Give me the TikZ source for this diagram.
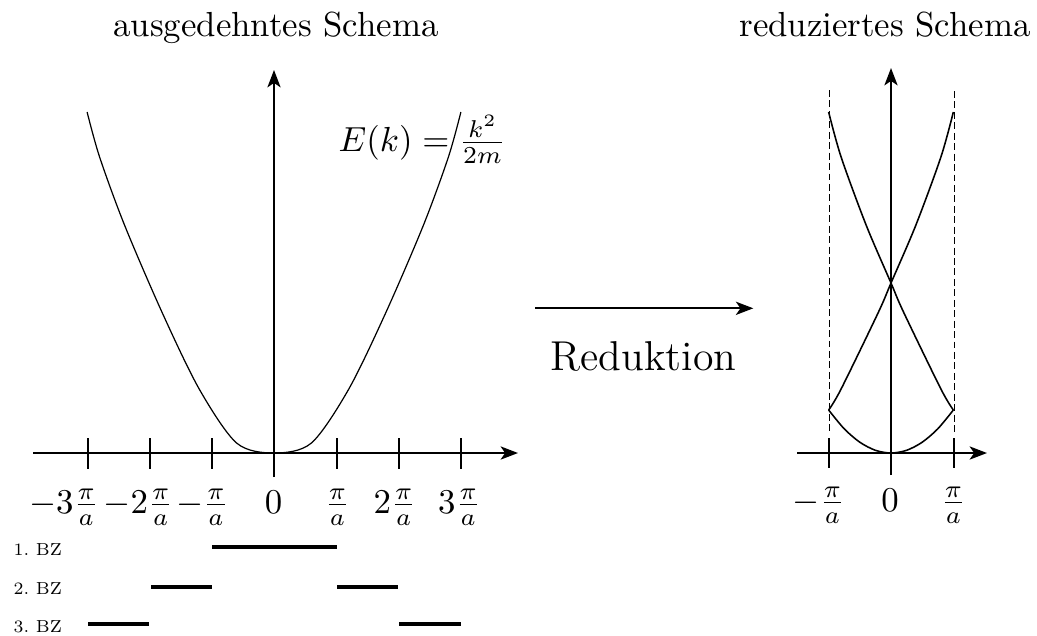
\documentclass[tikz,border=0pt]{standalone}
\usetikzlibrary{arrows.meta}
\begin{document}
\begin{tikzpicture}[x=0.2874pt,y=-0.2874pt,
  axis/.style={line width=0.55pt,-{Stealth[length=5pt,width=3.8pt,inset=1.3pt]}},
  tickline/.style={line width=0.55pt},
  bandcurve/.style={line width=0.45pt},
  thincurve/.style={line width=0.35pt},
  bzbar/.style={line width=1.2pt},
  lbl/.style={inner sep=0pt,anchor=base},
  bzlbl/.style={inner sep=0pt,anchor=base west},
  dashline/.style={line width=0.45pt,dash pattern=on 2pt off 1pt}]
\useasboundingbox (0,0) rectangle (1037,635);

% titles
\node[lbl] (t1) at (276,36) {ausgedehntes Schema};
\node[lbl] (t2) at (885,36) {reduziertes Schema};

% ---------- left plot ----------
\coordinate (xl1) at (33,453);
\coordinate (xr1) at (518,453);
\coordinate (yb1) at (274,477);
\coordinate (yt1) at (274,70);
\draw[axis] (xl1) -- (xr1);
\draw[axis] (yb1) -- (yt1);
\foreach \x in {87.7,149.9,212.2,336.7,398.9,461.2}
  \draw[tickline] (\x,438) -- (\x,469);

\draw[thincurve] plot[smooth] coordinates {
 (87.1,112) (99.6,157) (124.5,225) (161.9,312) (199.2,389) (236.6,443)
 (274,453)
 (311.4,443) (348.8,389) (386.1,312) (423.5,225) (448.4,157) (460.9,112)};

\node[inner sep=0pt,anchor=base west] (ek) at (338,151) {$E(k) = \frac{k^2}{2m}$};

\node[lbl] (l1) at (64,513) {$-3\frac{\pi}{a}$};
\node[lbl] (l2) at (138.5,513) {$-2\frac{\pi}{a}$};
\node[lbl] (l3) at (202.5,513) {$-\frac{\pi}{a}$};
\node[lbl] (l4) at (273.5,513) {$0$};
\node[lbl] (l5) at (337.5,513) {$\frac{\pi}{a}$};
\node[lbl] (l6) at (395,513) {$2\frac{\pi}{a}$};
\node[lbl] (l7) at (459.5,513) {$3\frac{\pi}{a}$};

% Brillouin zones
\node[bzlbl] (bz1) at (13,555) {\scalebox{0.714}{\scriptsize 1.~BZ}};
\node[bzlbl] (bz2) at (13,594) {\scalebox{0.714}{\scriptsize 2.~BZ}};
\node[bzlbl] (bz3) at (13,632) {\scalebox{0.714}{\scriptsize 3.~BZ}};
\draw[bzbar] (212.3,547.3) -- (336.7,547.3);
\draw[bzbar] (151,586.7) -- (211.7,586.7);
\draw[bzbar] (337.3,586.7) -- (398.3,586.7);
\draw[bzbar] (88.3,624.3) -- (149.3,624.3);
\draw[bzbar] (399.3,624.3) -- (460.7,624.3);

% ---------- Reduktion arrow ----------
\coordinate (ra) at (535,308.3);
\coordinate (rb) at (753.3,308.3);
\draw[axis] (ra) -- (rb);
\node[lbl,font=\large] (red) at (643.5,370) {Reduktion};

% ---------- right plot ----------
\coordinate (xl2) at (797,453);
\coordinate (xr2) at (987,453);
\coordinate (yb2) at (891,475);
\coordinate (yt2) at (891,68);
\draw[axis] (xl2) -- (xr2);
\draw[axis] (yb2) -- (yt2);
\draw[tickline] (829.3,438) -- (829.3,468);
\draw[tickline] (954.3,438) -- (954.3,468);
\draw[dashline] (829.3,90) -- (829.3,434);
\draw[dashline] (954.3,91) -- (954.3,434);

\draw[bandcurve] plot[smooth] coordinates {
 (828.65,410) (844.2,428.8) (859.8,442.2) (875.4,450.3) (891,453)
 (906.6,450.3) (922.2,442.2) (937.8,428.8) (953.35,410)};
\draw[bandcurve] plot[smooth] coordinates {
 (828.65,410) (841.1,389) (878.5,312) (891,283) (915.9,225) (940.9,157) (953.35,112)};
\draw[bandcurve] plot[smooth] coordinates {
 (953.35,410) (940.9,389) (903.5,312) (891,283) (866.1,225) (841.1,157) (828.65,112)};

\node[lbl] (r1) at (819,511) {$-\frac{\pi}{a}$};
\node[lbl] (r2) at (890,511) {$0$};
\node[lbl] (r3) at (953.5,511) {$\frac{\pi}{a}$};
\end{tikzpicture}
\end{document}
